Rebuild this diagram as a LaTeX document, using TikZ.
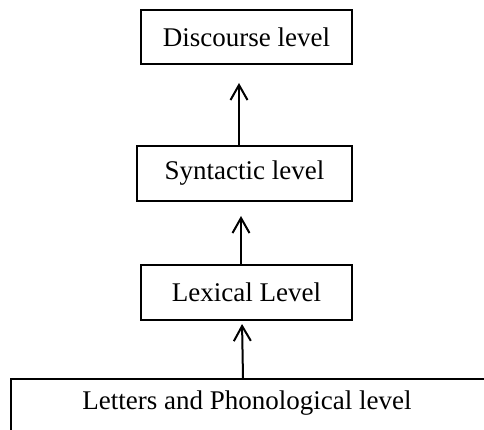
\documentclass[tikz,border=0pt]{standalone}
\usepackage{fontspec}
\setmainfont{Liberation Serif}
\usetikzlibrary{arrows.meta}
\tikzset{>={Straight Barb[length=15pt,width=17pt]}}
\tikzset{levelbox/.style = {shape=rectangle,draw,line width=2pt,inner sep=0pt,font=\fontsize{27}{32}\selectfont}}
\tikzset{leveltext/.style = {inner sep=0pt,font=\fontsize{27}{32}\selectfont}}
\begin{document}
\begin{tikzpicture}[x=1pt,y=-1pt]
                    \useasboundingbox (0,0) rectangle (484,430);
                    \node[levelbox, minimum width=211pt, minimum height=54pt] (D) at (246.5,37) {Discourse level};
                    \node[levelbox, minimum width=215pt, minimum height=55pt] (S) at (244.5,173.5) {Syntactic level};
                    \node[levelbox, minimum width=211pt, minimum height=55pt] (L) at (246.5,292.5) {Lexical Level};
                    \node[levelbox, minimum width=500pt, minimum height=80pt, anchor=north west] (P) at (10,378) {};
                    \node[leveltext] (Ptext) at (247,403) {Letters and Phonological level};

                    \draw[->, line width=2pt, shorten >=18pt] ([xshift=-5.5pt]S.north) -- ([xshift=-7.5pt]D.south);
                    \draw[->, line width=2pt, shorten >=14pt] ([xshift=-5.5pt]L.north) -- ([xshift=-3.5pt]S.south);
                    \draw[->, line width=2pt, shorten >=3pt] ([xshift=-18pt]P.north) -- ([xshift=-4.5pt]L.south);
                \end{tikzpicture}
\end{document}
